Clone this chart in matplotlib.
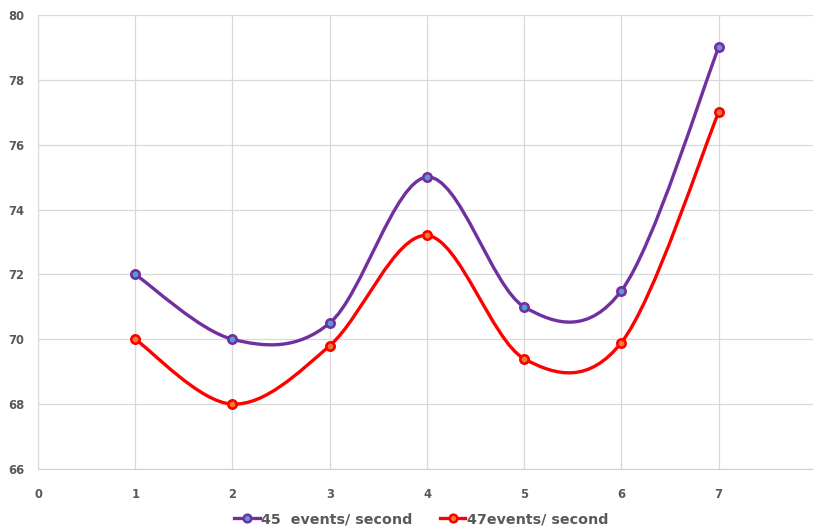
import numpy as np
import matplotlib.pyplot as plt
from matplotlib.path import Path
from matplotlib.patches import PathPatch
from matplotlib.lines import Line2D

x_vals = [1, 2, 3, 4, 5, 6, 7]
series_45 = [72, 70, 70.5, 75, 71, 71.5, 79]
series_47 = [70, 68, 69.8, 73.2, 69.4, 69.9, 77]
labels = ['45  events/ second', '47events/ second']
colors = ['#7030A0', '#FF0000']
marker_fill = ['#5B9BD5', '#ED7D31']
y_ticks = [66, 68, 70, 72, 74, 76, 78, 80]
x_ticks = [0, 1, 2, 3, 4, 5, 6, 7]


def smooth_path(xs, ys):
    """Excel-style smoothed line as cubic Bezier segments"""
    pts = np.column_stack([xs, ys]).astype(float)
    ext = np.vstack([pts[0], pts, pts[-1]])
    verts = [tuple(pts[0])]
    codes = [Path.MOVETO]
    for i in range(1, len(ext) - 2):
        p0, p1, p2, p3 = ext[i - 1], ext[i], ext[i + 1], ext[i + 2]
        c1 = p1 + (p2 - p0) / 6.0
        c2 = p2 - (p3 - p1) / 6.0
        verts += [tuple(c1), tuple(c2), tuple(p2)]
        codes += [Path.CURVE4] * 3
    return Path(verts, codes)


fig = plt.figure(figsize=(8.13, 5.31), dpi=100)
ax = fig.add_axes([0.0467, 0.1168, 0.9533, 0.855])

for ys, col, mf in zip([series_45, series_47], colors, marker_fill):
    patch = PathPatch(smooth_path(x_vals, ys), facecolor='none', edgecolor=col,
                      lw=2.4, capstyle='round', joinstyle='round', zorder=3)
    ax.add_patch(patch)
    ax.plot(x_vals, ys, ls='none', marker='o', ms=6, mfc=mf, mec=col,
            mew=1.9, zorder=4)

ax.set_xlim(0, 7.97)
ax.set_ylim(66, 80)
ax.set_xticks(x_ticks)
ax.set_yticks(y_ticks)
ax.grid(True, color='#D9D9D9', lw=0.9)
ax.set_axisbelow(True)
for s in ['top', 'right']:
    ax.spines[s].set_visible(False)
ax.spines['left'].set_color('#D9D9D9')
ax.spines['bottom'].set_color('#D0D0D0')
ax.tick_params(length=0, labelsize=8.3, labelcolor='#595959', pad=14)
ax.tick_params(axis='y', pad=10)
for t in ax.get_xticklabels() + ax.get_yticklabels():
    t.set_fontweight('bold')

handles = [Line2D([], [], color=c, lw=2.4, marker='o', ms=5.5, mfc=mf, mec=c, mew=1.8)
           for c, mf in zip(colors, marker_fill)]
fig.legend(handles, labels, loc='center', bbox_to_anchor=(0.518, 0.022), ncol=2,
           frameon=False, handlelength=1.8, handletextpad=0.1, columnspacing=1.9,
           prop={'weight': 'bold', 'size': 10.3})
for t in fig.legends[0].get_texts():
    t.set_color('#595959')

fig.savefig('out.png', dpi=100)
